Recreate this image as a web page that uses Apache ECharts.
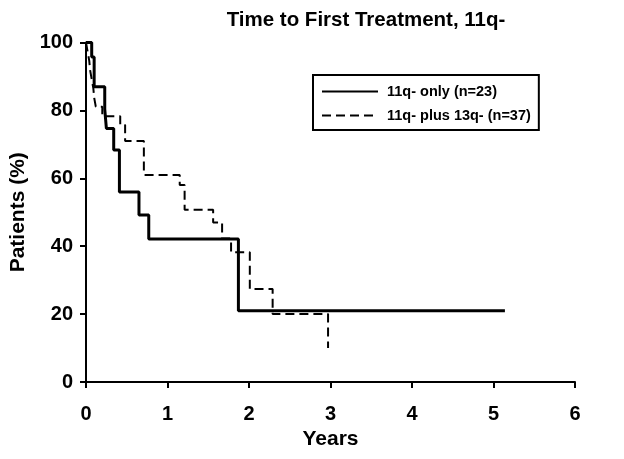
<!DOCTYPE html>
<html>
<head>
<meta charset="utf-8">
<script src="https://cdn.jsdelivr.net/npm/echarts@6/dist/echarts.min.js"></script>
<style>
html,body{margin:0;padding:0;background:#fff;}
#chart{width:624px;height:459px;}
</style>
</head>
<body>
<div id="chart"></div>
<script>
// Kaplan-Meier step points: [years, patients %] (value after each step)
var only11qTimes  = [0, 0.07, 0.10, 0.23, 0.25, 0.34, 0.41, 0.65, 0.77, 1.87, 5.14];
var only11qValues = [100, 95.7, 87, 80.4, 74.7, 68.3, 56, 49.2, 42.1, 21, 21];

var plus13qTimes  = [0, 0.02, 0.04, 0.05, 0.07, 0.09, 0.10, 0.12, 0.20, 0.42, 0.48, 0.71, 1.15, 1.21, 1.56, 1.67, 1.78, 2.01, 2.29, 2.97];
var plus13qValues = [100, 97.3, 94.6, 91.9, 89.2, 86.5, 83.8, 81.1, 78.3, 75.7, 71, 61, 58, 50.7, 47, 42.3, 38.2, 27.4, 20, 10];

var seriesNames = ['11q- only (n=23)', '11q- plus 13q- (n=37)'];
var xTicks = [0, 1, 2, 3, 4, 5, 6];
var yTicks = [0, 20, 40, 60, 80, 100];

function pairs(t, v) { return t.map(function (x, i) { return [x, v[i]]; }); }

var FONT = 'Liberation Sans, Arial, sans-serif';
var chart = echarts.init(document.getElementById('chart'), null, {renderer: 'canvas'});
chart.setOption({
  animation: false,
  backgroundColor: '#fff',
  title: {
    text: 'Time to First Treatment, 11q-',
    left: 361, top: 5, textAlign: 'center',
    textStyle: {fontFamily: FONT, fontWeight: 'bold', fontSize: 20.5, color: '#000'}
  },
  legend: {
    orient: 'vertical',
    left: 313, top: 75,
    padding: [9, 8, 7, 8],
    itemGap: 9,
    itemWidth: 56,
    itemHeight: 14,
    borderColor: '#000', borderWidth: 2,
    itemStyle: {opacity: 0},
    textStyle: {fontFamily: FONT, fontWeight: 'bold', fontSize: 14.5, color: '#000', padding: [0, 0, 0, 4]},
    data: seriesNames
  },
  grid: {left: 86, right: 49, top: 42.5, bottom: 77, containLabel: false, outerBoundsMode: 'none'},
  xAxis: {
    type: 'value', min: xTicks[0], max: xTicks[xTicks.length - 1], interval: 1,
    name: 'Years', nameLocation: 'middle', nameGap: 47,
    nameTextStyle: {fontFamily: FONT, fontWeight: 'bold', fontSize: 21, color: '#000'},
    axisLine: {show: true, lineStyle: {color: '#000', width: 2}},
    axisTick: {show: true, inside: false, length: 6, lineStyle: {color: '#000', width: 2}},
    axisLabel: {fontFamily: FONT, fontWeight: 'bold', fontSize: 20, color: '#000', margin: 22},
    splitLine: {show: false}
  },
  yAxis: {
    type: 'value', min: yTicks[0], max: yTicks[yTicks.length - 1], interval: 20,
    name: 'Patients (%)', nameLocation: 'middle', nameGap: 55, nameRotate: 90,
    nameTextStyle: {fontFamily: FONT, fontWeight: 'bold', fontSize: 21, color: '#000'},
    axisLine: {show: true, lineStyle: {color: '#000', width: 2}},
    axisTick: {show: true, inside: false, length: 6, lineStyle: {color: '#000', width: 2}},
    axisLabel: {fontFamily: FONT, fontWeight: 'bold', fontSize: 20, color: '#000', margin: 13},
    splitLine: {show: false}
  },
  series: [
    {
      name: seriesNames[0], type: 'line', step: 'end', symbol: 'none',
      data: pairs(only11qTimes, only11qValues),
      lineStyle: {color: '#000', width: 3, type: 'solid'},
      itemStyle: {color: '#000'}
    },
    {
      name: seriesNames[1], type: 'line', step: 'end', symbol: 'none',
      data: pairs(plus13qTimes, plus13qValues),
      lineStyle: {color: '#000', width: 2, type: [9, 5]},
      itemStyle: {color: '#000'}
    }
  ]
});
</script>
</body>
</html>
